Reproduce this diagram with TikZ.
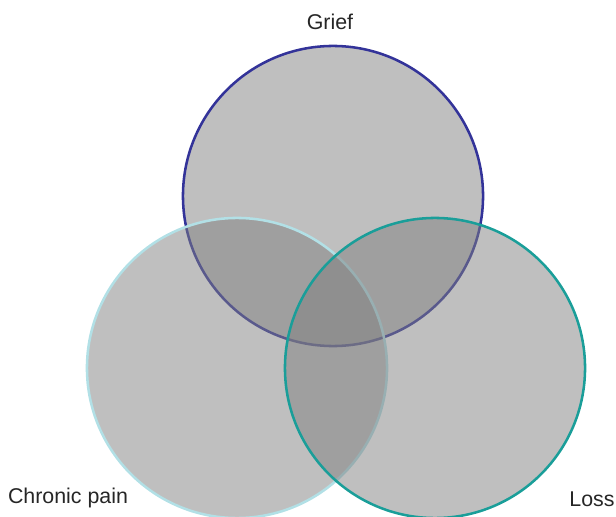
\documentclass[tikz,border=0pt]{standalone}
\usepackage{fontspec}
\setmainfont{Liberation Sans}
\usepackage{tikz}
\usetikzlibrary{
    positioning,
    backgrounds
}
\definecolor{Cgrief}{RGB}{51, 51, 153}
\definecolor{Cpain}{RGB}{178, 224, 230}
\definecolor{Closs}{RGB}{26, 158, 153}
\tikzset{
    vset/.style={
        circle, minimum size=7.5cm, inner sep=0pt, line width=1.8pt,
        fill=gray, fill opacity=0.5, draw opacity=1
    },
    vlabel/.style={
        text=black!85, font=\fontsize{15.2}{18}\selectfont, inner sep=0pt
    },
}

\begin{document}
\begin{tikzpicture}[x=0.025cm, y=-0.025cm]

    \useasboundingbox (0,0) rectangle (616,517);

    \node [vset, draw=Cgrief] (grief) at (333,196) {};
    \node [vset, draw=Cpain] (pain) at (237,368) {};
    \node [vset, draw=Closs] (loss) at (435,368) {};

    \node [vlabel] (griefl) at (330,22) {Grief};
    \node [vlabel] (painl) at (68,498) {Chronic pain};
    \node [vlabel] (lossl) at (592,499) {Loss};

\end{tikzpicture}
\end{document}
